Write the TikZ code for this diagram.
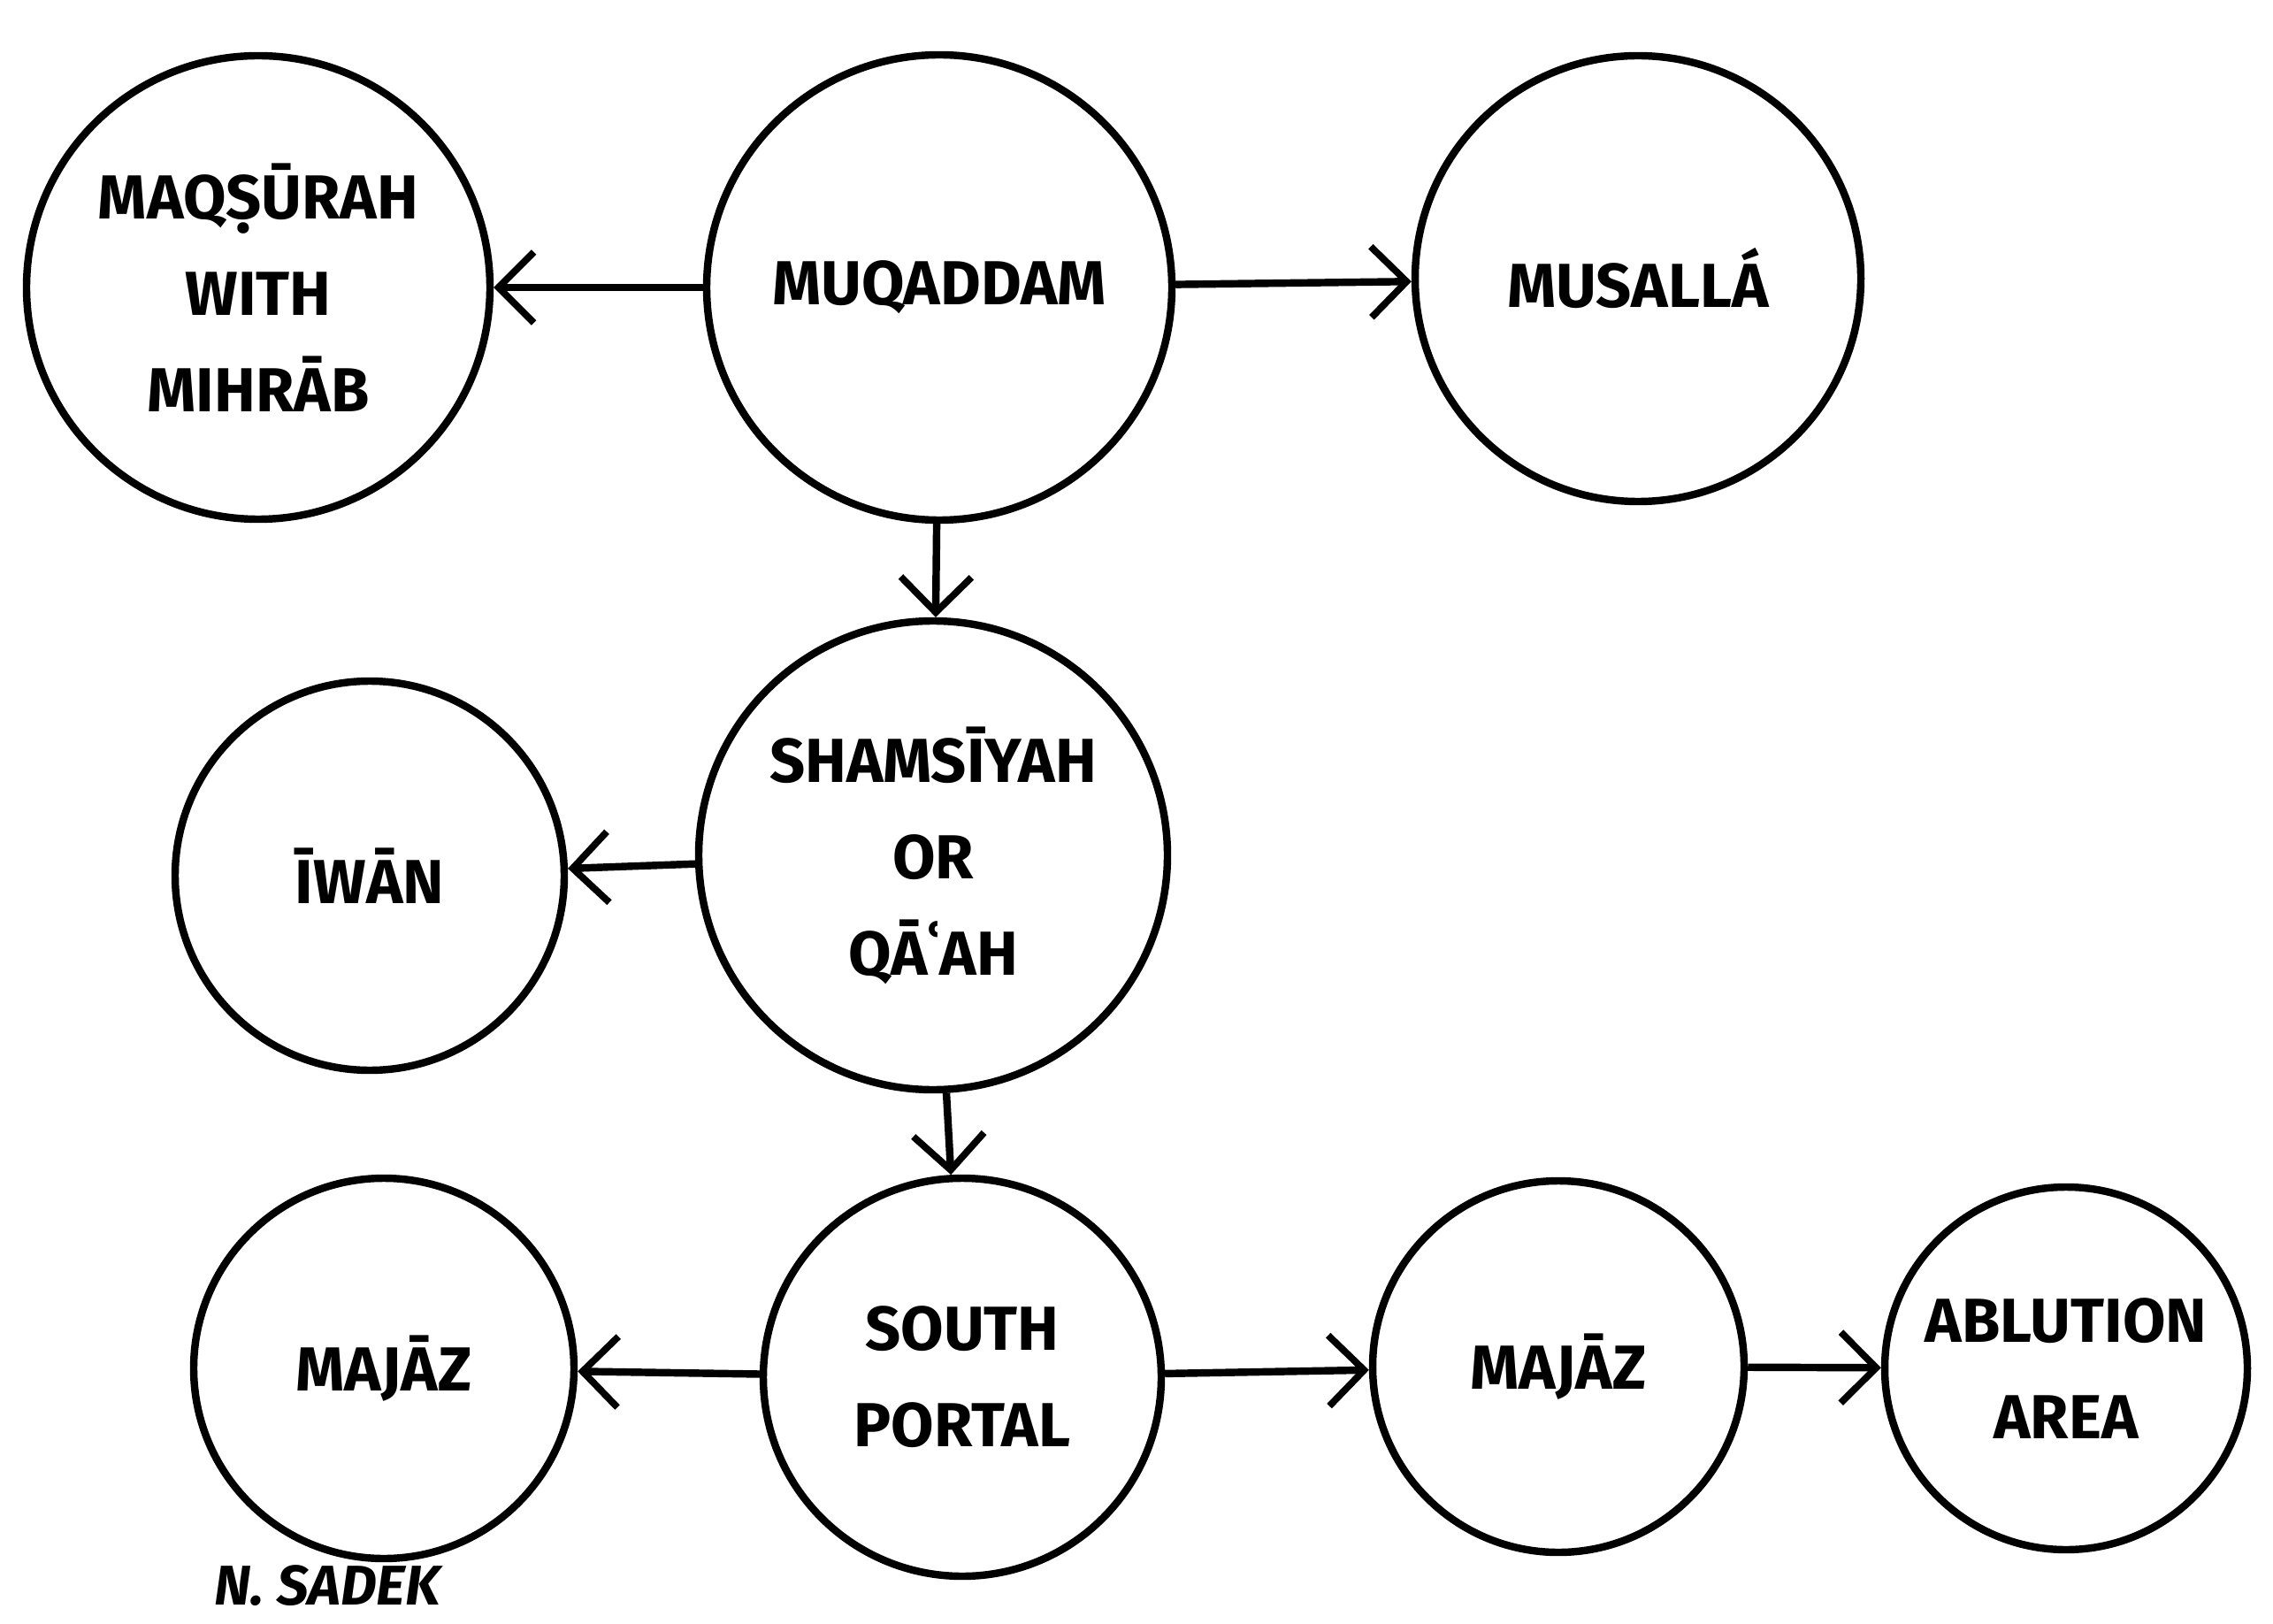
\documentclass[tikz,border=0pt]{standalone}
\usepackage{fontspec}
\setmainfont{Fira Sans}
\usepackage{tikz}
\usetikzlibrary{positioning,arrows.meta}
\tikzset{
  room/.style ={circle, draw=black, line width=2.4pt, align=center, inner sep=0pt,
                font=\fontsize{20}{31}\selectfont\bfseries},
  flow/.style ={-{Straight Barb[length=4mm, width=8mm, line width=2.2pt]}, line width=2.4pt},
}
\begin{document}
\begin{tikzpicture}
\useasboundingbox (0,0) rectangle (25.7,18.35);
\node[room, minimum size=5.24cm] (maq) at (2.92,15.10) {MAQṢŪRAH\\ WITH\\ MIHRĀB};
\node[room, minimum size=5.26cm] (muq) at (10.62,15.10) {MUQADDAM};
\node[room, minimum size=5.04cm] (mus) at (18.52,15.20) {MUSALLÁ};
\node[room, minimum size=5.30cm] (sham) at (10.55,8.68) {SHAMSĪYAH\\ OR\\ QĀʿAH};
\node[room, minimum size=4.40cm] (iwan) at (4.18,8.45) {ĪWĀN};
\node[room, minimum size=4.50cm] (sp) at (10.88,2.78) {SOUTH\\ PORTAL};
\node[room, minimum size=4.30cm] (majl) at (4.34,2.88) {MAJĀZ};
\node[room, minimum size=4.20cm] (majr) at (17.62,2.90) {MAJĀZ};
\node[room, minimum size=4.10cm] (abl) at (23.36,2.88) {ABLUTION\\ AREA};
\node[font=\fontsize{18}{22}\selectfont\bfseries\itshape] (sig) at (3.70,0.42) {N. SADEK};
% connections
\draw[flow] (muq) -- (maq);
\draw[flow] (muq) -- (mus);
\draw[flow] (muq) -- (sham);
\draw[flow] (sham) -- (iwan);
\draw[flow] (sham) -- (sp);
\draw[flow] (sp) -- (majl);
\draw[flow] (sp) -- (majr);
\draw[flow] (majr) -- (abl);
\end{tikzpicture}
\end{document}
